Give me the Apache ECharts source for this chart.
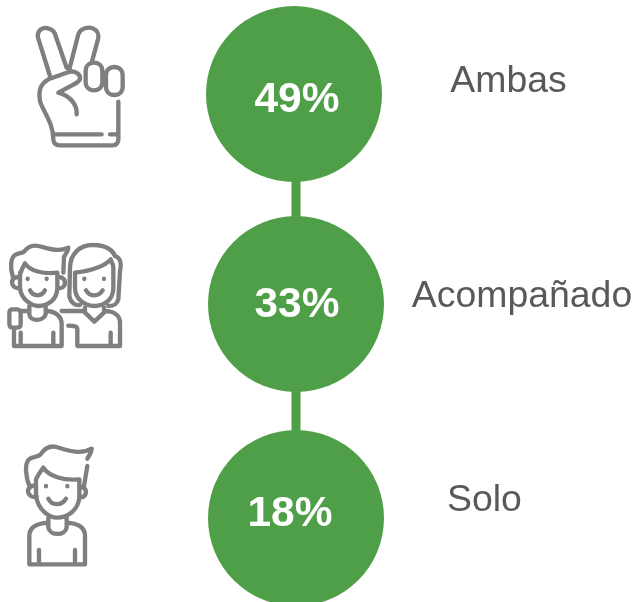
<!DOCTYPE html>
<html><head><meta charset="utf-8">
<style>html,body{margin:0;padding:0;background:#fff}#c{width:634px;height:602px}</style>
<script src="https://cdn.jsdelivr.net/npm/echarts@6/dist/echarts.min.js"></script>
</head><body><div id="c"></div>
<script>
const categories = ['Ambas', 'Acompañado', 'Solo'];
const shares = [49, 33, 18];

const GREEN = '#4f9f48', GREY = '#595959', ICON = '#7f7f7f';
const bubbleOffsets = [[-2, 1], [0, -1], [0, 1]];
const valueOffsets = [[3, 6], [1, 1], [-6, -4]];
const nameOffsets = [[212.5, -11], [226, -8], [188.5, -16]];

const handIcon = 'M90 195 L54 80 C50 55 72 48 84 52 C97 55 105 65 107 75 L140 170 M148 175 L175 70 C182 50 205 47 218 52 C232 58 238 72 234 85 L215 155 ' +
  'M85 205 L140 185 C165 175 182 190 180 203 C178 212 170 215 160 221 L115 245 C150 255 172 280 170 310 ' +
  'M85 205 C60 220 55 240 60 270 C68 300 100 335 100 385 C100 397 108 403 118 403 L278 403 C290 403 295 395 295 385 L295 272 ' +
  'M105 370 L245 370 M270 370 L295 370 ' +
  'M222 155 C237 155 247 165 247 180 L247 213 C247 228 237 238 222 238 C207 238 197 228 197 213 L197 180 C197 165 207 155 222 155 Z ' +
  'M283 168 C298 168 308 178 308 193 L308 227 C308 242 298 252 283 252 C268 252 258 242 258 227 L258 193 C258 178 268 168 283 168 Z';

const pairIcon = 'M38 135 C30 110 32 80 45 72 C55 65 65 68 72 62 C85 45 100 42 115 45 C140 50 170 65 205 50 C205 62 195 70 192 78 L190 125 ' +
  'M60 130 C65 115 70 105 75 97 C90 120 130 130 172 125 ' +
  'M60 125 L60 170 C62 205 95 225 115 225 C145 225 172 205 172 170 L172 125 ' +
  'M60 140 C40 135 30 150 40 165 C45 172 55 172 60 170 M172 140 C190 135 200 150 192 165 C188 172 178 172 172 170 ' +
  'M83 143 L83 144 M140 143 L140 144 M90 178 C100 198 125 198 135 178 ' +
  'M88 225 L88 250 C90 272 130 272 137 250 L137 225 ' +
  'M62 240 L88 240 M137 240 C165 240 185 255 185 280 L185 345 L42 345 L42 290 ' +
  'M38 235 L52 235 C58 235 62 240 62 248 L62 280 C62 287 57 290 50 290 L40 290 C32 290 28 285 28 278 L28 245 C28 238 32 235 38 235 Z ' +
  'M62 345 L62 305 M160 345 L160 305 ' +
  'M210 110 C210 70 240 40 280 42 C320 42 340 60 345 75 C362 80 365 100 360 120 L355 205 C350 225 335 225 325 225 ' +
  'M210 110 L208 195 C212 215 225 225 240 222 ' +
  'M225 125 L225 170 C225 205 255 225 283 225 C315 225 340 205 340 170 L340 110 C340 100 335 95 332 85 C310 110 265 120 225 125 ' +
  'M253 143 L253 144 M312 143 L312 144 M258 178 C270 198 295 198 308 178 ' +
  'M255 225 L255 245 L283 272 L312 245 L312 225 ' +
  'M185 240 L255 240 M312 240 C345 240 360 255 360 275 L360 345 L232 345 L232 295 C232 287 226 284 205 284 M332 345 L332 305';

const soloIcon = 'M60 155 C45 120 45 85 55 72 C65 60 85 65 92 55 C105 35 120 28 140 33 C170 42 210 58 245 38 C245 52 235 60 232 68 M232 90 L222 150 ' +
  'M78 145 L78 130 C85 115 92 105 100 95 C115 120 160 135 208 130 ' +
  'M78 140 L78 180 C85 225 120 245 140 245 C175 245 205 220 208 185 L208 130 ' +
  'M78 150 C55 145 48 165 60 178 C65 185 75 183 80 180 M208 155 C225 150 232 165 225 178 C220 185 212 183 207 180 ' +
  'M108 150 L108 151 M172 150 L172 151 M115 188 C125 210 155 210 168 188 ' +
  'M115 245 L115 275 C120 300 165 300 170 275 L170 245 ' +
  'M115 260 C80 262 58 275 58 300 L58 385 L225 385 L225 300 C225 275 205 262 170 260 ' +
  'M87 385 L87 342 M195 385 L195 342';

echarts.graphic.registerShape('handIcon', echarts.graphic.extendPath(handIcon, {}));
echarts.graphic.registerShape('pairIcon', echarts.graphic.extendPath(pairIcon, {}));
echarts.graphic.registerShape('soloIcon', echarts.graphic.extendPath(soloIcon, {}));

function icon(type, x, y) {
  return {
    type, x, y, scaleX: 1 / 3, scaleY: 1 / 3, silent: true,
    style: { fill: null, stroke: ICON, lineWidth: 13, lineCap: 'round', lineJoin: 'round' }
  };
}

const chart = echarts.init(document.getElementById('c'), null, { renderer: 'canvas' });
chart.setOption({
  animation: false,
  backgroundColor: '#fff',
  grid: { left: 0, right: 0, top: -13, height: 636, outerBoundsMode: 'none' },
  xAxis: { type: 'value', min: -296, max: 338, show: false },
  yAxis: { type: 'category', data: categories, inverse: true, show: false, boundaryGap: true },
  graphic: [icon('handIcon', 20, 11), icon('pairIcon', 0, 231), icon('soloIcon', 10, 436)],
  series: [
    {
      type: 'line',
      clip: false,
      silent: true,
      lineStyle: { color: GREEN, width: 9 },
      itemStyle: { color: GREEN },
      symbol: 'circle',
      symbolSize: 176,
      data: shares.map((v, i) => ({
        value: [0, categories[i]],
        share: v,
        symbolOffset: bubbleOffsets[i],
        label: {
          show: true, position: 'inside', offset: valueOffsets[i],
          formatter: v + '%', color: '#fff', fontFamily: 'Liberation Sans',
          fontSize: 42.5, fontWeight: 'bold'
        }
      }))
    },
    {
      type: 'line',
      clip: false,
      silent: true,
      lineStyle: { opacity: 0 },
      itemStyle: { color: 'rgba(255,255,255,0)' },
      symbol: 'circle',
      symbolSize: 2,
      data: categories.map((c, i) => ({
        value: [0, c],
        label: {
          show: true, position: 'inside', offset: nameOffsets[i],
          formatter: c, color: GREY, fontFamily: 'Liberation Sans', fontSize: 37.4
        }
      }))
    }
  ]
});
</script></body></html>
